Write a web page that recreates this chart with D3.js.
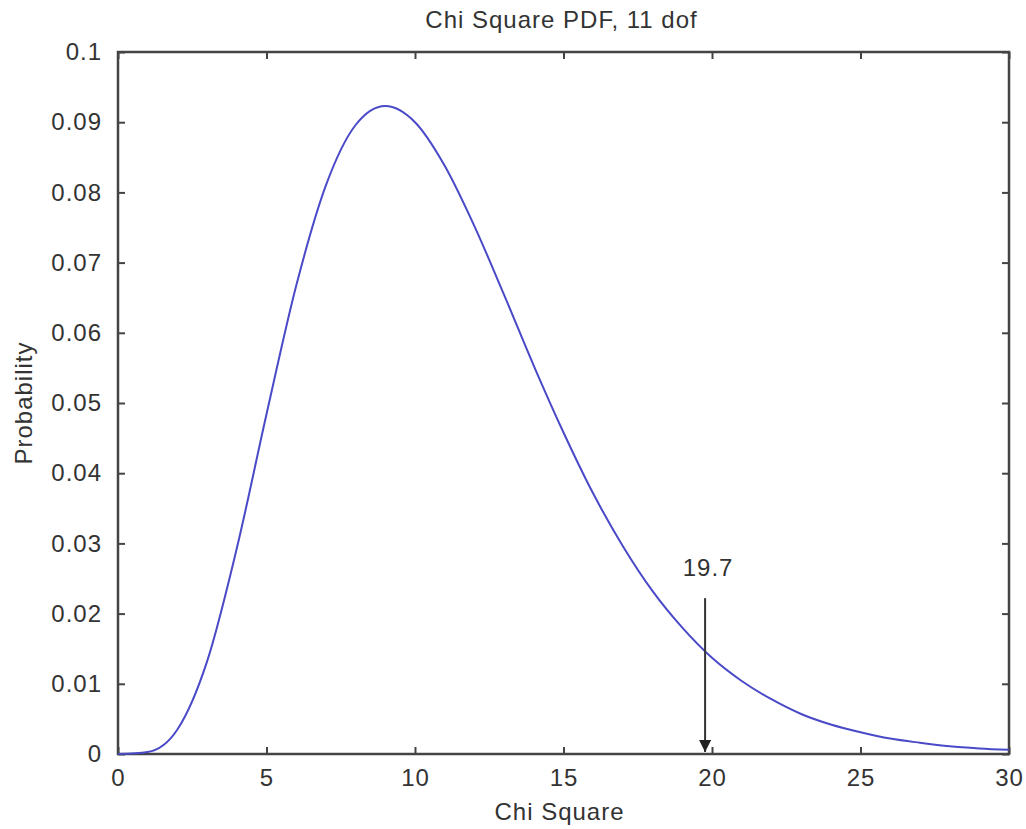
<!DOCTYPE html>
<html>
<head>
<meta charset="utf-8">
<script src="https://cdn.jsdelivr.net/npm/d3@7"></script>
<style>
  body { margin: 0; background: #fff; }
  svg text { font-family: "Liberation Sans", Arial, sans-serif; fill: #333; letter-spacing: 1px; }
</style>
</head>
<body>
<svg id="chart" width="1026" height="829"></svg>
<script>
'use strict';

// values
var chiValues = [0, 1, 2, 3, 4, 5, 6, 7, 8, 9, 10, 11, 12, 13, 14, 15,
  16, 17, 18, 19, 20, 21, 22, 23, 24, 25, 26, 27, 28, 29, 30];
var probValues = [0, 0.0003, 0.0035, 0.0132, 0.0293, 0.0484, 0.0667, 0.0810, 0.0896, 0.0923,
  0.0900, 0.0838, 0.0752, 0.0654, 0.0553, 0.0458, 0.0371, 0.0296, 0.0232, 0.0180,
  0.0137, 0.0104, 0.0078, 0.0057, 0.0042, 0.0031, 0.0022, 0.0016, 0.0011, 0.0008, 0.0006];
var xTicks = [0, 5, 10, 15, 20, 25, 30];
var yTicks = [0, 0.01, 0.02, 0.03, 0.04, 0.05, 0.06, 0.07, 0.08, 0.09, 0.1];
var markerX = 19.7;
var markerLabel = '19.7';
var markerTop = 0.0222;
var markerText = 0.0265;

var svg = d3.select('#chart');
var plotLeft = 118, plotRight = 1009, plotTop = 52, plotBottom = 754;

var x = d3.scaleLinear().domain([0, 30]).range([plotLeft, plotRight]);
var y = d3.scaleLinear().domain([0, 0.1]).range([plotBottom, plotTop]);

var axisColor = '#444';
var fontSize = '24px';

// tick formatting like matlab: 0, 0.01 ... 0.1
var fmtY = function(d) { return d === 0 ? '0' : String(+d.toFixed(2)); };

function styleAxis(g, noLabels) {
  g.select('.domain').remove();
  g.selectAll('.tick line').attr('stroke', axisColor).attr('stroke-width', 2);
  g.selectAll('.tick text').style('font-size', fontSize).attr('fill', '#333');
  if (noLabels) { g.selectAll('.tick text').remove(); }
}

// bottom / left with labels, top / right only ticks (pointing inward)
svg.append('g')
  .attr('transform', 'translate(0,' + plotBottom + ')')
  .call(d3.axisBottom(x).tickValues(xTicks).tickSize(-7).tickPadding(15).tickFormat(d3.format('d')))
  .call(styleAxis);

svg.append('g')
  .attr('transform', 'translate(0,' + plotTop + ')')
  .call(d3.axisTop(x).tickValues(xTicks).tickSize(-7))
  .call(styleAxis, true);

svg.append('g')
  .attr('transform', 'translate(' + plotLeft + ',0)')
  .call(d3.axisLeft(y).tickValues(yTicks).tickSize(-7).tickPadding(16).tickFormat(fmtY))
  .call(styleAxis);

svg.append('g')
  .attr('transform', 'translate(' + plotRight + ',0)')
  .call(d3.axisRight(y).tickValues(yTicks).tickSize(-7))
  .call(styleAxis, true);

// box
svg.append('rect')
  .attr('x', plotLeft).attr('y', plotTop)
  .attr('width', plotRight - plotLeft).attr('height', plotBottom - plotTop)
  .attr('fill', 'none').attr('stroke', axisColor).attr('stroke-width', 2.5);

// the curve
var pts = chiValues.map(function(c, i) { return [c, probValues[i]]; });
var line = d3.line()
  .x(function(d) { return x(d[0]); })
  .y(function(d) { return y(d[1]); })
  .curve(d3.curveMonotoneX);

svg.append('path')
  .datum(pts)
  .attr('d', line)
  .attr('fill', 'none')
  .attr('stroke', '#4a4ac8')
  .attr('stroke-width', 2);

// arrow pointing at 19.7
svg.append('defs').append('marker')
  .attr('id', 'head')
  .attr('viewBox', '0 0 10 10')
  .attr('refX', 10).attr('refY', 5)
  .attr('markerWidth', 14).attr('markerHeight', 12)
  .attr('markerUnits', 'userSpaceOnUse')
  .attr('orient', 'auto')
  .append('path')
  .attr('d', 'M0,0 L10,5 L0,10 Z')
  .attr('fill', '#222');

var ax = x(markerX) + 2;  // arrow sits a hair right of 19.7 in the original
svg.append('line')
  .attr('x1', ax).attr('x2', ax)
  .attr('y1', y(markerTop)).attr('y2', plotBottom - 2)
  .attr('stroke', '#333').attr('stroke-width', 2)
  .attr('marker-end', 'url(#head)');

svg.append('text')
  .attr('x', ax + 3).attr('y', y(markerText))
  .attr('text-anchor', 'middle')
  .attr('dy', '0.35em')
  .style('font-size', fontSize)
  .text(markerLabel);

// titles
svg.append('text')
  .attr('x', (plotLeft + plotRight) / 2 - 2).attr('y', 28)
  .attr('text-anchor', 'middle')
  .style('font-size', fontSize)
  .text('Chi Square PDF, 11 dof');

svg.append('text')
  .attr('x', (plotLeft + plotRight) / 2 - 4).attr('y', 820)
  .attr('text-anchor', 'middle')
  .style('font-size', fontSize)
  .text('Chi Square');

svg.append('text')
  .attr('transform', 'translate(32,' + ((plotTop + plotBottom) / 2) + ') rotate(-90)')
  .attr('text-anchor', 'middle')
  .style('font-size', fontSize)
  .text('Probability');
</script>
</body>
</html>
